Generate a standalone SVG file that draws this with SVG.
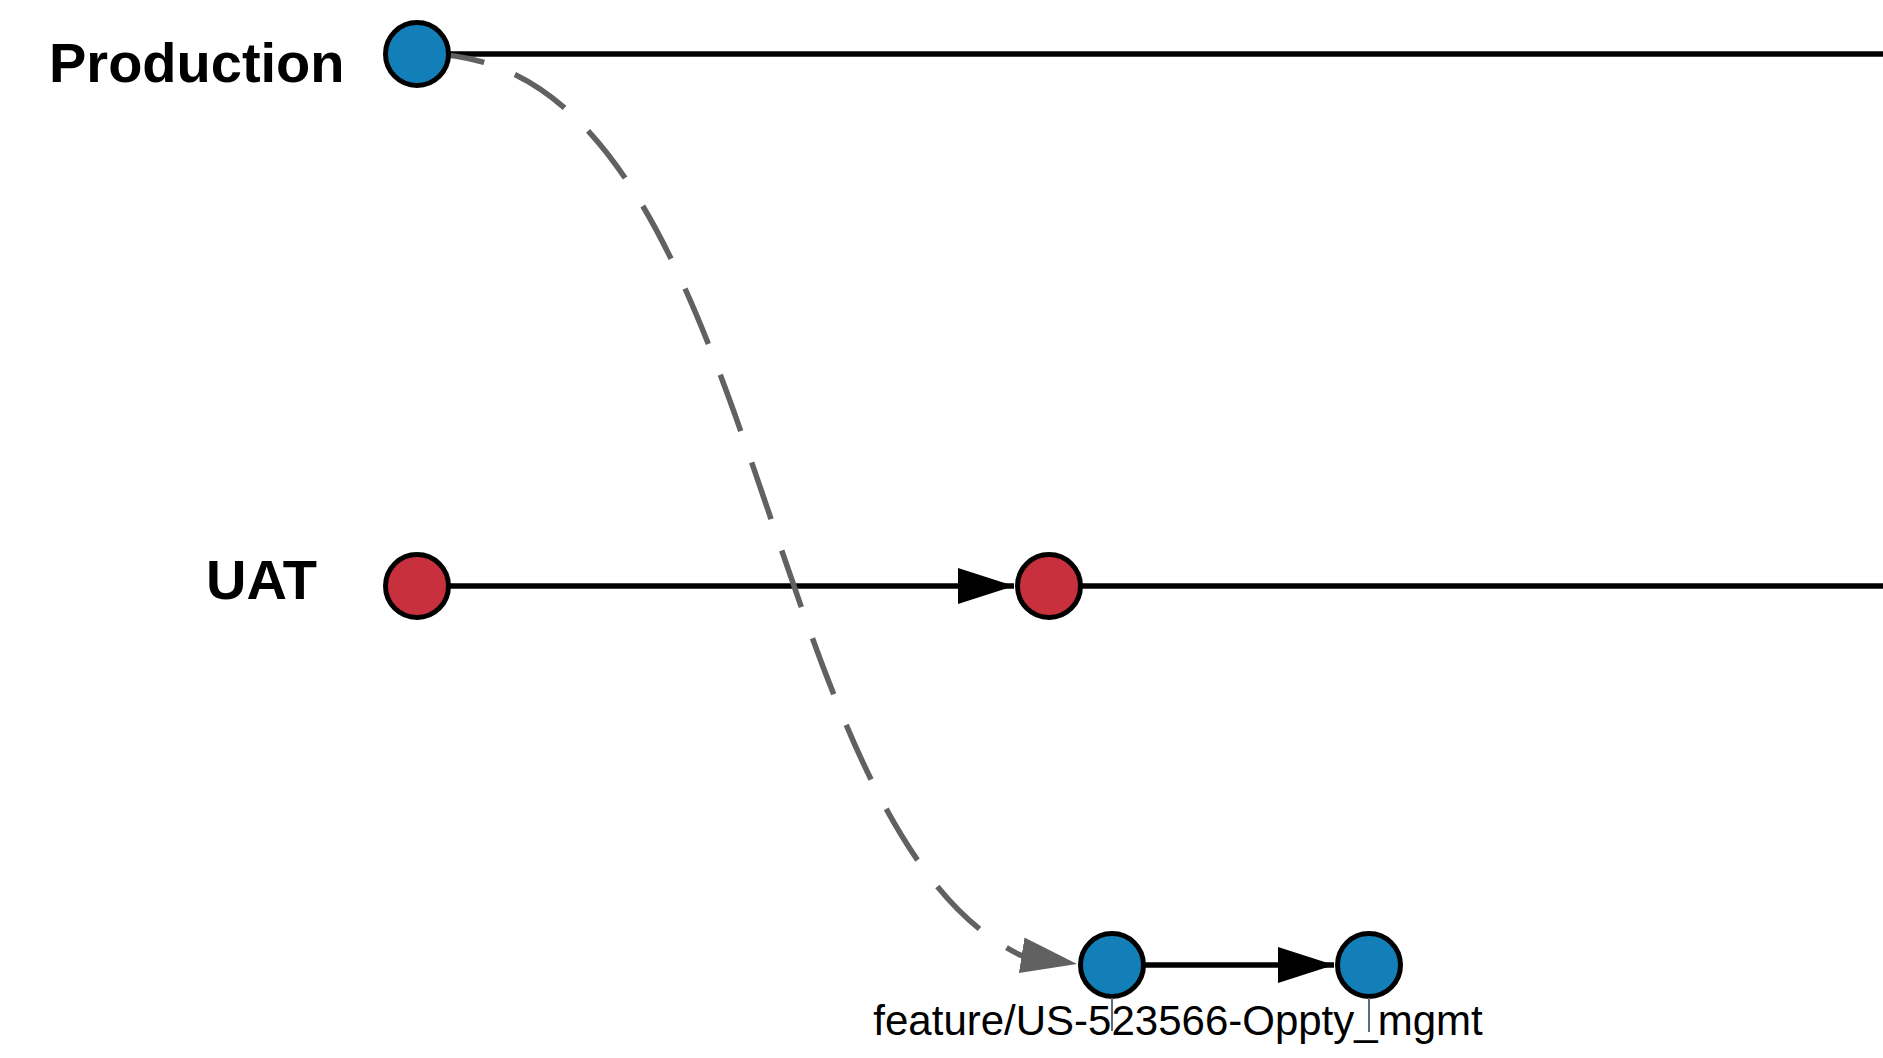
<svg xmlns="http://www.w3.org/2000/svg" width="1883" height="1058" viewBox="0 0 1883 1058">
  <style>
    .lane { font-family: "Liberation Sans", Arial, sans-serif; font-weight: bold; font-size: 56px; fill: #000; }
    .lbl { font-family: "Liberation Sans", Arial, sans-serif; font-size: 42px; fill: #000; }
    .edge { stroke: #000; stroke-width: 5.5; fill: none; }
    .dash { stroke: #616161; stroke-width: 5.5; fill: none; stroke-dasharray: 60 33; }
    .commit { stroke: #000; stroke-width: 5; }
    .blue { fill: #137fb8; }
    .red { fill: #c8303e; }
    .tick { stroke: #5f6b78; stroke-width: 2; }
  </style>
  <defs>
    <marker id="arrowBlack" markerUnits="userSpaceOnUse" markerWidth="58" markerHeight="38" refX="56" refY="18" orient="auto">
      <path d="M0,0 L56,18 L0,36 Z" fill="#000"/>
    </marker>
    <marker id="arrowGray" markerUnits="userSpaceOnUse" markerWidth="58" markerHeight="38" refX="56" refY="18" orient="auto">
      <path d="M0,0 L56,18 L0,36 Z" fill="#616161"/>
    </marker>
  </defs>
  <rect width="1883" height="1058" fill="#fff"/>

  <g id="connectors">
    <line class="edge" x1="417" y1="54" x2="1883" y2="54"/>
    <line class="edge" x1="417" y1="586" x2="1014" y2="586" marker-end="url(#arrowBlack)"/>
    <line class="edge" x1="1049" y1="586" x2="1883" y2="586"/>
    <line class="edge" x1="1112" y1="965" x2="1334" y2="965" marker-end="url(#arrowBlack)"/>
    <path class="dash" d="M425,54 C766,54 750,823 1020,955 L1077,964" marker-end="url(#arrowGray)"/>
  </g>

  <g id="lane-production">
    <text class="lane" x="49" y="82">Production</text>
  </g>
  <g id="lane-uat">
    <text class="lane" x="206" y="599">UAT</text>
  </g>

  <g id="node-prod-1">
    <circle class="commit blue" cx="417" cy="54" r="31.5"/>
  </g>
  <g id="node-uat-1">
    <circle class="commit red" cx="417" cy="586" r="31.5"/>
  </g>
  <g id="node-uat-2">
    <circle class="commit red" cx="1049" cy="586" r="31.5"/>
  </g>
  <g id="node-feature-1">
    <circle class="commit blue" cx="1112" cy="965" r="31.5"/>
  </g>
  <g id="node-feature-2">
    <circle class="commit blue" cx="1369" cy="965" r="31.5"/>
  </g>

  <g id="label-feature">
    <text class="lbl" x="1178" y="1035" text-anchor="middle">feature/US-523566-Oppty_mgmt</text>
    <line class="tick" x1="1112" y1="998" x2="1112" y2="1031"/>
    <line class="tick" x1="1369" y1="998" x2="1369" y2="1032"/>
  </g>
</svg>
